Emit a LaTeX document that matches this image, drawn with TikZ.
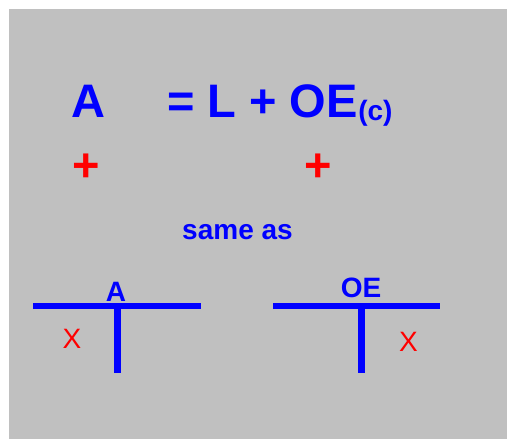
\documentclass[tikz,border=0pt]{standalone}
\usepackage{fontspec}
\setmainfont{Liberation Sans}
\usetikzlibrary{positioning}
\definecolor{panel}{RGB}{192,192,192}

\tikzset{
	big/.style={inner sep=0pt,anchor=base,text=blue,font=\bfseries\fontsize{47}{52}\selectfont},
	small/.style={inner sep=0pt,anchor=base,text=blue,font=\bfseries\fontsize{28}{32}\selectfont},
	redplus/.style={inner sep=0pt,anchor=base,text=red,font=\bfseries\fontsize{47}{52}\selectfont},
	redx/.style={inner sep=0pt,anchor=base,text=red,font=\fontsize{28}{32}\selectfont},
	tbar/.style={draw=blue,line width=6.5pt}
}

\begin{document}
\begin{tikzpicture}[x=1pt,y=-1pt]
			\useasboundingbox (0,0) rectangle (507,439);
			\fill[panel] (9,9) rectangle (507,439);

			% equation
			\node[big] (asset) at (88.5,117) {A};
			\node[big,anchor=base west] (eq) at (167,117) {= L + OE};
			\node[inner sep=0pt,anchor=base west,text=blue,font=\bfseries\fontsize{28}{30}\selectfont] (cap) at ([yshift=-3pt]eq.base east) {(c)};
			\node[redplus] (plusA) at (86,181) {+};
			\node[redplus] (plusOE) at (318,181) {+};
			\node[small] (same) at (237.5,239) {same as};

			% T accounts
			\coordinate (aL) at (33,306);
			\coordinate (aR) at (201,306);
			\coordinate (aT) at (117.5,306);
			\coordinate (aB) at (117.5,373);
			\coordinate (oL) at (273,306);
			\coordinate (oR) at (440,306);
			\coordinate (oT) at (361.5,306);
			\coordinate (oB) at (361.5,373);
			\begin{scope}[tbar]
			\draw (aL)--(aR);
			\draw (aT)--(aB);
			\draw (oL)--(oR);
			\draw (oT)--(oB);
			\end{scope}
			\node[small] (tA) at (116,301) {A};
			\node[small] (tOE) at (361,297) {OE};
			\node[redx] (xA) at (72,348) {X};
			\node[redx] (xOE) at (408.5,351) {X};
\end{tikzpicture}
\end{document}
